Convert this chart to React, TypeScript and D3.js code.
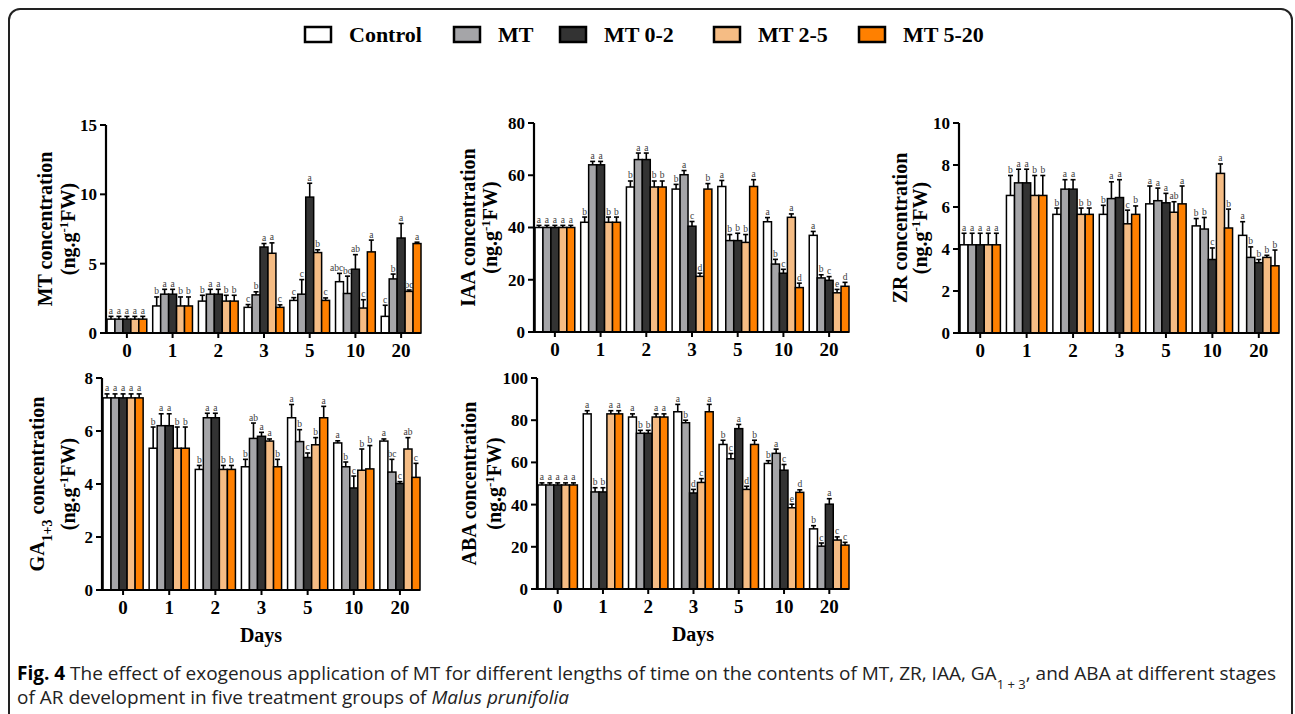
import * as d3 from "d3";

const days = ["0", "1", "2", "3", "5", "10", "20"];
const groups = ["Control", "MT", "MT 0-2", "MT 2-5", "MT 5-20"];
const colors = ["#ffffff", "#a5a5a8", "#333333", "#f5bc84", "#ff8000"];

// per day: values for Control, MT, MT 0-2, MT 2-5, MT 5-20
const mtMean = [
  [1.0, 1.0, 1.0, 1.0, 1.0],
  [1.95, 2.8, 2.8, 1.95, 1.95],
  [2.3, 2.8, 2.8, 2.3, 2.3],
  [1.85, 2.75, 6.2, 5.75, 1.85],
  [2.35, 2.8, 9.8, 5.8, 2.35],
  [3.7, 2.85, 4.6, 1.8, 5.85],
  [1.2, 3.9, 6.85, 3.0, 6.45],
];
const mtSd = [
  [0.2, 0.2, 0.2, 0.2, 0.2],
  [0.65, 0.35, 0.35, 0.65, 0.65],
  [0.42, 0.35, 0.35, 0.42, 0.42],
  [0.2, 0.22, 0.25, 0.75, 0.18],
  [0.2, 1.05, 1.0, 0.2, 0.18],
  [0.6, 1.25, 1.05, 0.6, 0.85],
  [0.8, 0.35, 1.05, 0.1, 0.1],
];
const mtLetters = [
  ["a", "a", "a", "a", "a"],
  ["b", "a", "a", "b", "b"],
  ["b", "a", "a", "b", "b"],
  ["c", "b", "a", "a", "c"],
  ["c", "c", "a", "b", "c"],
  ["abc", "bc", "ab", "c", "a"],
  ["c", "b", "a", "bc", "a"],
];

const iaaMean = [
  [40, 40, 40, 40, 40],
  [42, 64, 64, 42, 42],
  [55.5, 66, 66, 55.5, 55.5],
  [54.7, 60.2, 40.5, 21.3, 54.7],
  [55.7, 35, 35, 34.3, 55.7],
  [42.2, 26, 22.5, 43.9, 17],
  [37, 20.7, 19.8, 15, 17.5],
];
const iaaSd = [
  [0.8, 0.8, 0.8, 0.8, 0.8],
  [2, 1.3, 1.3, 2, 2],
  [2.3, 2.5, 2.5, 2.3, 2.3],
  [1.8, 1.6, 1.8, 1.2, 2.1],
  [2.3, 2.3, 2.8, 3, 2.6],
  [1.6, 1.8, 1.5, 1.3, 1.7],
  [1.5, 1.2, 1.4, 1.3, 1.5],
];
const iaaLetters = [
  ["a", "a", "a", "a", "a"],
  ["b", "a", "a", "b", "b"],
  ["b", "a", "a", "b", "b"],
  ["b", "a", "c", "d", "b"],
  ["a", "b", "b", "b", "a"],
  ["a", "b", "c", "a", "d"],
  ["a", "b", "c", "e", "d"],
];

const zrMean = [
  [4.2, 4.2, 4.2, 4.2, 4.2],
  [6.55, 7.15, 7.15, 6.55, 6.55],
  [5.65, 6.85, 6.85, 5.65, 5.65],
  [5.65, 6.4, 6.45, 5.2, 5.65],
  [6.15, 6.3, 6.2, 5.75, 6.15],
  [5.1, 4.95, 3.5, 7.6, 5.0],
  [4.65, 3.6, 3.35, 3.6, 3.2],
];
const zrSd = [
  [0.55, 0.55, 0.55, 0.55, 0.55],
  [0.95, 0.65, 0.65, 0.95, 0.95],
  [0.3, 0.45, 0.45, 0.3, 0.3],
  [0.43, 0.8, 0.85, 0.65, 0.4],
  [0.85, 0.6, 0.45, 0.5, 0.85],
  [0.35, 0.55, 0.55, 0.45, 0.9],
  [0.65, 0.5, 0.15, 0.1, 0.75],
];
const zrLetters = [
  ["a", "a", "a", "a", "a"],
  ["b", "a", "a", "b", "b"],
  ["b", "a", "a", "b", "b"],
  ["b", "a", "a", "c", "b"],
  ["a", "a", "a", "ab", "a"],
  ["b", "b", "c", "a", "b"],
  ["a", "b", "b", "b", "b"],
];

const gaMean = [
  [7.25, 7.25, 7.25, 7.25, 7.25],
  [5.35, 6.2, 6.2, 5.35, 5.35],
  [4.55, 6.5, 6.5, 4.55, 4.55],
  [4.65, 5.72, 5.8, 5.62, 4.65],
  [6.5, 5.6, 5.0, 5.48, 6.5],
  [5.55, 4.65, 3.85, 4.52, 4.57],
  [5.62, 4.45, 4.02, 5.32, 4.25],
];
const gaSd = [
  [0.15, 0.15, 0.15, 0.15, 0.15],
  [0.8, 0.45, 0.45, 0.8, 0.8],
  [0.15, 0.17, 0.17, 0.15, 0.15],
  [0.28, 0.58, 0.15, 0.08, 0.28],
  [0.5, 0.45, 0.17, 0.27, 0.43],
  [0.08, 0.18, 0.45, 0.8, 0.88],
  [0.08, 0.48, 0.07, 0.43, 0.53],
];
const gaLetters = [
  ["a", "a", "a", "a", "a"],
  ["b", "a", "a", "b", "b"],
  ["b", "a", "a", "b", "b"],
  ["b", "ab", "a", "a", "b"],
  ["a", "b", "c", "b", "a"],
  ["a", "b", "c", "b", "b"],
  ["a", "bc", "c", "ab", "c"],
];

const abaMean = [
  [49.3, 49.3, 49.3, 49.3, 49.3],
  [83, 46, 46, 83, 83],
  [81.5, 73.8, 73.8, 81.5, 81.5],
  [84, 78.8, 45.5, 50.5, 84],
  [68.5, 61.7, 76, 47.2, 68.5],
  [59.5, 64.3, 56.3, 38.5, 45.8],
  [28.5, 20.3, 40.2, 23.2, 20.8],
];
const abaSd = [
  [1, 1, 1, 1, 1],
  [1.5, 2, 2, 1.5, 1.5],
  [1.5, 1.4, 1.4, 1.5, 1.5],
  [3.5, 1.2, 1.7, 1.8, 3.5],
  [2, 2.5, 2, 1.5, 2],
  [1.3, 2, 2.7, 1.7, 1.2],
  [1.5, 1.5, 2.6, 1.5, 1.3],
];
const abaLetters = [
  ["a", "a", "a", "a", "a"],
  ["a", "b", "b", "a", "a"],
  ["a", "b", "b", "a", "a"],
  ["a", "b", "d", "c", "a"],
  ["b", "c", "a", "d", "b"],
  ["b", "a", "c", "e", "d"],
  ["b", "c", "a", "c", "c"],
];

const serif = "'Liberation Serif', 'Times New Roman', serif";

function Panel({ x0, x1, yTop, yBot, max, step, mean, sd, letters, title, sub, t1, t2, showDays }) {
  const x = d3.scaleBand().domain(days).range([x0 + 1, x1]).paddingInner(0.13).paddingOuter(0);
  const xi = d3.scaleBand().domain(groups).range([0, x.bandwidth()]);
  const y = d3.scaleLinear().domain([0, max]).range([yBot, yTop]);
  const ticks = d3.range(0, max + step / 2, step);
  const midY = (yTop + yBot) / 2;
  return (
    <g>
      {/* bars */}
      {days.map((d, i) => (
        <g key={d} transform={`translate(${x(d)},0)`}>
          {groups.map((g, j) => {
            const v = mean[i][j];
            const e = v + sd[i][j];
            const cx = xi(g) + xi.bandwidth() / 2;
            const lab = letters[i][j];
            return (
              <g key={g}>
                <rect x={xi(g)} y={y(v)} width={xi.bandwidth()} height={y(0) - y(v)}
                  fill={colors[j]} stroke="#000" strokeWidth={1.5} />
                <line x1={cx} x2={cx} y1={y(v)} y2={y(e)} stroke="#000" strokeWidth={1.6} />
                <line x1={cx - 2.5} x2={cx + 2.5} y1={y(e)} y2={y(e)} stroke="#000" strokeWidth={1.6} />
                <text x={lab.length > 2 ? cx - 3 : cx} y={y(e) - 2.5} textAnchor="middle" fontSize={9.5} fill="#3a3a3a">{lab}</text>
              </g>
            );
          })}
        </g>
      ))}
      {/* axes */}
      <line x1={x0} x2={x0} y1={yTop} y2={yBot + 1} stroke="#000" strokeWidth={2.2} />
      <line x1={x0 - 1} x2={x1} y1={yBot} y2={yBot} stroke="#000" strokeWidth={2.2} />
      {ticks.map((t) => (
        <g key={t}>
          <line x1={x0 - 6} x2={x0} y1={y(t)} y2={y(t)} stroke="#000" strokeWidth={2} />
          <text x={x0 - 9} y={y(t)} dy="0.35em" textAnchor="end" fontSize={17} fontWeight="bold">{t}</text>
        </g>
      ))}
      {days.map((d) => (
        <g key={d}>
          <line x1={x(d) + x.bandwidth() / 2} x2={x(d) + x.bandwidth() / 2} y1={yBot} y2={yBot + 5} stroke="#000" strokeWidth={2} />
          <text x={x(d) + x.bandwidth() / 2} y={yBot + 24} textAnchor="middle" fontSize={19} fontWeight="bold">{d}</text>
        </g>
      ))}
      {/* y title */}
      <text transform={`translate(${x0 + t1},${midY}) rotate(-90)`} textAnchor="middle" fontSize={20} fontWeight="bold">
        {title}
        {sub ? <tspan baselineShift="sub" fontSize={14}>{sub}</tspan> : null}
        <tspan> concentration</tspan>
      </text>
      <text transform={`translate(${x0 + t2},${midY}) rotate(-90)`} textAnchor="middle" fontSize={20} fontWeight="bold">
        (ng.g<tspan baselineShift="super" fontSize={13}>-1</tspan><tspan>FW)</tspan>
      </text>
      {showDays ? (
        <text x={(x0 + x1) / 2} y={yBot + 52} textAnchor="middle" fontSize={20} fontWeight="bold">Days</text>
      ) : null}
    </g>
  );
}

const legendX = [305, 454, 560, 714, 859];

export default function App() {
  return (
    <svg width={1295} height={714} fontFamily={serif}
      style={{ position: "absolute", left: 0, top: 0, background: "#fff" }}>
      <rect x={9} y={9} width={1283} height={730} rx={11} fill="none" stroke="#222" strokeWidth={2} />
      {/* legend */}
      {groups.map((g, i) => (
        <g key={g}>
          <rect x={legendX[i]} y={27} width={26} height={15} fill={colors[i]} stroke="#000" strokeWidth={2.5} />
          <text x={legendX[i] + 44} y={42} fontSize={22} fontWeight="bold">{g}</text>
        </g>
      ))}
      <Panel x0={106} x1={421} yTop={125} yBot={333} max={15} step={5}
        mean={mtMean} sd={mtSd} letters={mtLetters} title="MT" t1={-54} t2={-31} />
      <Panel x0={534} x1={849} yTop={123} yBot={332} max={80} step={20}
        mean={iaaMean} sd={iaaSd} letters={iaaLetters} title="IAA" t1={-59} t2={-37} />
      <Panel x0={959} x1={1279} yTop={123} yBot={333} max={10} step={2}
        mean={zrMean} sd={zrSd} letters={zrLetters} title="ZR" t1={-52} t2={-32} />
      <Panel x0={102} x1={420} yTop={378} yBot={590} max={8} step={2}
        mean={gaMean} sd={gaSd} letters={gaLetters} title="GA" sub="1+3" t1={-58} t2={-27} showDays />
      <Panel x0={537} x1={849} yTop={378} yBot={589} max={100} step={20}
        mean={abaMean} sd={abaSd} letters={abaLetters} title="ABA" t1={-61} t2={-36} showDays />
      {/* caption */}
      <g fontFamily="'Open Sans', sans-serif" fontSize={19} fill="#222">
        <text x={17} y={680} textLength={1259} lengthAdjust="spacingAndGlyphs">
          <tspan fontWeight="bold" fill="#000">Fig. 4</tspan>
          <tspan> The effect of exogenous application of MT for different lengths of time on the contents of MT, ZR, IAA, GA</tspan>
          <tspan baselineShift="sub" fontSize={13}>1 + 3</tspan>
          <tspan>, and ABA at different stages</tspan>
        </text>
        <text x={17} y={704} textLength={552} lengthAdjust="spacingAndGlyphs">
          of AR development in five treatment groups of <tspan fontStyle="italic">Malus prunifolia</tspan>
        </text>
      </g>
    </svg>
  );
}
